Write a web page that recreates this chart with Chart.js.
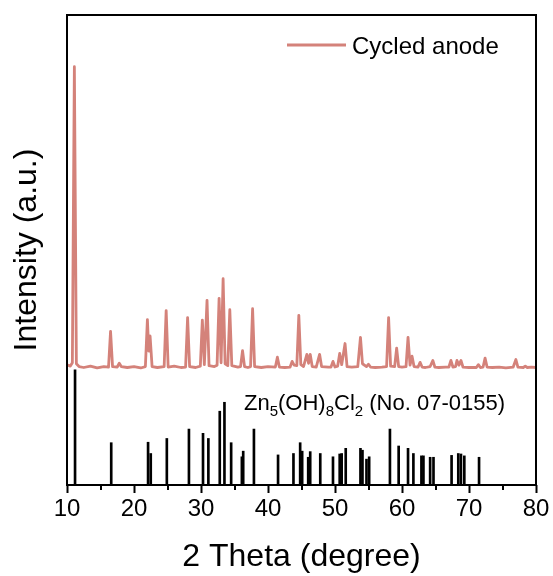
<!DOCTYPE html>
<html>
<head>
<meta charset="utf-8">
<script src="https://cdn.jsdelivr.net/npm/chart.js@4.4.1/dist/chart.umd.min.js"></script>
<style>
  html, body { margin: 0; padding: 0; background: #fff; }
</style>
</head>
<body>
<canvas id="graficaXRD" width="553" height="576"></canvas>
<script>
// -----------------------------
// DATOS
// -----------------------------

// patron medido: anodo ciclado (linea base ~25)
const xrdTheta = [
  10.0, 10.5, 10.8, 11.1, 11.4, 11.8, 12.5, 13.5, 14.5, 15.5,
  16.2, 16.5, 16.8, 17.5, 17.8, 18.1, 19.0, 20.0, 21.0, 21.7,
  22.0, 22.2, 22.4, 22.7, 23.5, 24.5, 24.8, 25.1, 26.0, 27.0,
  27.7, 28.0, 28.3, 29.2, 29.9, 30.2, 30.5, 30.9, 31.2, 32.0,
  32.4, 32.7, 33.0, 33.3, 33.6, 34.0, 34.3, 34.6, 35.5, 35.9,
  36.2, 36.5, 37.0, 37.4, 37.7, 38.0, 39.0, 40.0, 41.1, 41.4,
  41.7, 42.5, 43.3, 43.6, 43.9, 44.3, 44.6, 44.9, 45.3, 45.8,
  46.05, 46.3, 46.6, 47.2, 47.7, 48.0, 49.0, 49.4, 49.7, 50.0,
  50.4, 50.7, 51.0, 51.5, 51.8, 52.5, 53.4, 53.8, 54.1, 54.7,
  55.0, 55.3, 56.0, 57.0, 57.7, 58.0, 58.3, 58.9, 59.2, 59.5,
  60.0, 60.6, 60.9, 61.2, 61.5, 61.8, 62.4, 62.7, 63.0, 63.5,
  64.2, 64.6, 64.9, 65.5, 66.5, 67.0, 67.3, 67.6, 68.0, 68.2,
  68.5, 68.8, 69.1, 70.0, 71.1, 71.4, 71.7, 72.1, 72.4, 72.7,
  73.5, 74.5, 75.5, 76.6, 77.0, 77.3, 78.1, 78.4, 78.7, 79.3,
  80.0
];
const xrdIntensity = [
  25.6, 25.3, 26.0, 89.0, 25.8, 25.2, 25.0, 25.3, 24.9, 25.2,
  25.1, 32.7, 25.2, 25.1, 25.9, 25.2, 25.0, 25.2, 24.9, 25.2,
  35.2, 28.5, 31.7, 25.2, 25.0, 25.2, 37.1, 25.1, 25.3, 25.0,
  25.1, 35.6, 25.2, 25.0, 25.3, 35.1, 25.6, 39.3, 25.4, 25.2,
  25.5, 39.7, 26.0, 43.9, 25.8, 25.4, 37.3, 25.4, 25.1, 25.2,
  28.6, 25.2, 25.0, 25.2, 37.5, 25.2, 25.0, 25.2, 25.1, 27.2,
  25.1, 25.0, 25.1, 26.3, 25.5, 25.4, 36.1, 25.6, 25.2, 27.8,
  25.9, 27.8, 25.2, 25.1, 27.8, 25.2, 25.1, 25.1, 26.3, 25.1,
  25.3, 28.0, 25.6, 30.1, 25.2, 25.1, 25.2, 31.4, 25.8, 25.2,
  25.7, 25.1, 25.0, 25.1, 25.2, 35.6, 25.3, 25.2, 29.1, 25.2,
  25.1, 25.2, 31.4, 25.5, 27.4, 25.2, 25.1, 26.1, 25.1, 25.0,
  25.2, 26.5, 25.1, 25.0, 25.1, 25.1, 26.5, 25.1, 25.2, 26.5,
  25.5, 26.5, 25.1, 25.0, 25.0, 25.6, 25.0, 25.1, 27.0, 25.1,
  25.0, 25.1, 24.9, 25.1, 26.7, 25.1, 25.0, 25.3, 25.0, 25.1,
  25.0
];

// patron de referencia Zn5(OH)8Cl2 (No. 07-0155)
const refTheta = [
  11.2, 16.6, 22.1, 22.5, 24.9, 28.2, 30.3, 31.1, 32.8, 33.5,
  34.5, 36.1, 36.3, 37.9, 41.5, 43.8, 44.8, 45.1, 46.0, 46.3,
  47.8, 49.7, 50.7, 51.0, 51.6, 53.8, 54.1, 54.7, 55.1, 58.2,
  59.5, 60.9, 61.7, 62.9, 63.2, 64.2, 64.7, 67.4, 68.4, 68.8,
  69.3, 71.5
];
const refIntensity = [
  24.5, 9.0, 9.1, 6.7, 9.9, 11.9, 11.0, 9.9, 15.7, 17.6,
  9.0, 6.0, 7.2, 11.9, 6.4, 6.7, 9.0, 7.2, 5.9, 7.1,
  6.7, 6.0, 6.6, 6.7, 7.8, 7.8, 7.4, 5.5, 6.0, 11.9,
  8.3, 7.8, 6.7, 6.2, 6.2, 5.9, 5.9, 6.3, 6.7, 6.6,
  6.2, 5.9
];

const xMin = 10, xMax = 80;
const minorTicks = [15, 25, 35, 45, 55, 65, 75];

const serieNombre = "Cycled anode";
const refNombre = ["Zn", "5", "(OH)", "8", "Cl", "2", " (No. 07-0155)"];

const colorXRD = "rgb(212, 130, 122)";
const fuente = 'Arial, "Liberation Sans", sans-serif';

// -----------------------------
// PLUGINS
// -----------------------------

const marco = {
    id: 'marco',
    afterDraw(chart) {
        const {ctx, chartArea: a, scales: {x}} = chart;
        ctx.save();
        ctx.strokeStyle = '#000';
        ctx.lineWidth = 2;
        ctx.strokeRect(a.left, a.top, a.right - a.left, a.bottom - a.top);
        // ticks menores
        minorTicks.forEach(v => {
            const px = Math.round(x.getPixelForValue(v));
            ctx.beginPath();
            ctx.moveTo(px, a.bottom);
            ctx.lineTo(px, a.bottom + 5);
            ctx.stroke();
        });
        ctx.restore();
    }
};

const textos = {
    id: 'textos',
    afterDraw(chart) {
        const ctx = chart.ctx;
        ctx.save();
        // leyenda
        ctx.strokeStyle = colorXRD;
        ctx.lineWidth = 3;
        ctx.beginPath();
        ctx.moveTo(287, 45);
        ctx.lineTo(346, 45);
        ctx.stroke();
        ctx.fillStyle = '#000';
        ctx.font = '24px ' + fuente;
        ctx.textBaseline = 'alphabetic';
        ctx.fillText(serieNombre, 352, 54);

        // etiqueta de la referencia con subindices
        let cx = 244;
        refNombre.forEach((t, i) => {
            const sub = i % 2 === 1;
            ctx.font = (sub ? '15px ' : '22px ') + fuente;
            ctx.fillText(t, cx, sub ? 416 : 410);
            cx += ctx.measureText(t).width;
        });
        ctx.restore();
    }
};

// -----------------------------
// GRAFICA
// -----------------------------

const ctx = document.getElementById('graficaXRD');

new Chart(ctx, {
    data: {
        datasets: [{
            type: 'line',
            label: serieNombre,
            data: xrdTheta.map((t, i) => ({x: t, y: xrdIntensity[i]})),
            borderColor: colorXRD,
            borderWidth: 2.8,
            pointRadius: 0,
            tension: 0,
            borderJoinStyle: 'round'
        }, {
            type: 'bar',
            label: 'ref',
            data: refTheta.map((t, i) => ({x: t, y: refIntensity[i]})),
            backgroundColor: '#000',
            borderWidth: 0,
            barThickness: 2,
            grouped: false
        }]
    },
    options: {
        responsive: false,
        animation: false,
        devicePixelRatio: 1,
        layout: { padding: { top: 15, right: 17, left: 0, bottom: 0 } },
        plugins: {
            legend: { display: false },
            tooltip: { enabled: false }
        },
        scales: {
            x: {
                type: 'linear',
                min: xMin,
                max: xMax,
                offset: false,
                border: { display: false },
                grid: {
                    offset: false,
                    drawOnChartArea: false,
                    tickLength: 8,
                    tickWidth: 2,
                    tickColor: '#000'
                },
                ticks: {
                    stepSize: 10,
                    color: '#000',
                    padding: 2,
                    maxRotation: 0,
                    font: { family: fuente, size: 24 }
                },
                title: {
                    display: true,
                    text: '2 Theta (degree)',
                    color: '#000',
                    font: { family: fuente, size: 32 },
                    padding: { top: 0, bottom: 0 }
                },
                afterFit(s) { s.height = 91; }
            },
            y: {
                min: 0,
                max: 100,
                border: { display: false },
                grid: { display: false },
                ticks: { display: false },
                title: {
                    display: true,
                    text: 'Intensity (a.u.)',
                    color: '#000',
                    font: { family: fuente, size: 32 },
                    padding: { top: 8, bottom: 0 }
                },
                afterFit(s) { s.width = 67; }
            }
        }
    },
    plugins: [marco, textos]
});
</script>
</body>
</html>
